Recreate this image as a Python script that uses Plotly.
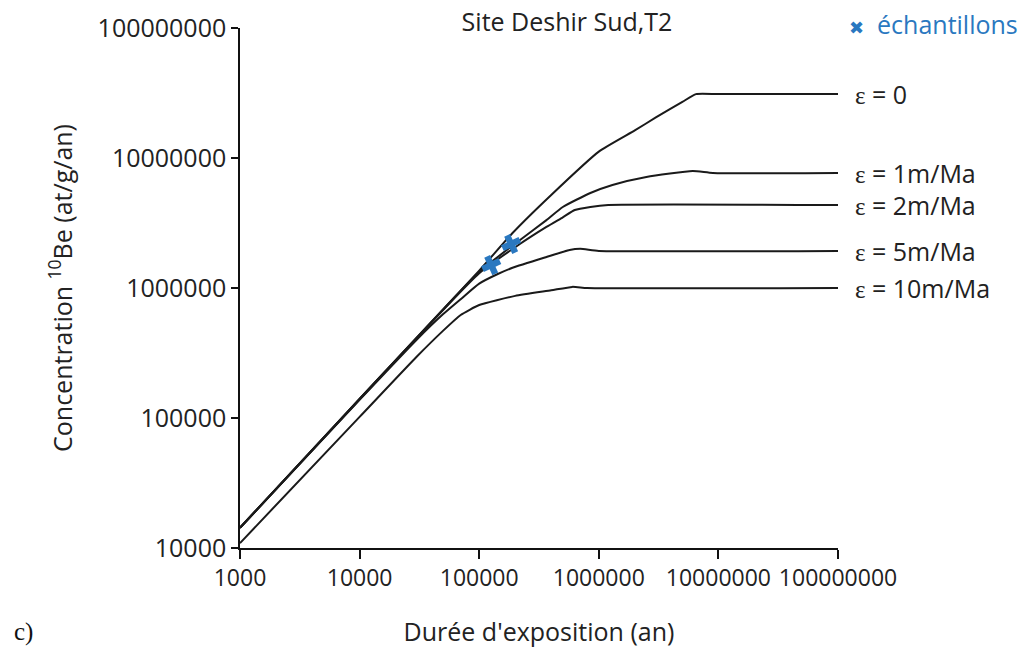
import math
import plotly.graph_objects as go

# ---- data ----
t_e0 = [1e3, 1e4, 1e5, 1.9e5, 4e5, 1e6, 2e6, 3e6, 5e6, 6.5e6, 1e7, 1e8]
n_e0 = [1.43e4, 1.40e5, 1.36e6, 2.65e6, 5.2e6, 1.12e7, 1.63e7, 2.05e7, 2.7e7, 3.1e7, 3.1e7, 3.1e7]

t_e1 = [1e3, 1e4, 1e5, 2.14e5, 3.65e5, 5e5, 8.5e5, 1.3e6, 2.5e6, 6.1e6, 9e6, 1e8]
n_e1 = [1.43e4, 1.40e5, 1.33e6, 2.3e6, 3.33e6, 4.2e6, 5.38e6, 6.2e6, 7.14e6, 7.94e6, 7.67e6, 7.67e6]

t_e2 = [1e3, 1e4, 1e5, 2.14e5, 3.65e5, 5e5, 6.3e5, 8.5e5, 1.2e6, 1e8]
n_e2 = [1.43e4, 1.40e5, 1.30e6, 2.15e6, 2.95e6, 3.5e6, 3.98e6, 4.2e6, 4.35e6, 4.35e6]

t_e5 = [1e3, 1e4, 3e4, 5e4, 7e4, 1e5, 1.4e5, 1.9e5, 3.65e5, 5.7e5, 7e5, 1e6, 1e8]
n_e5 = [1.43e4, 1.38e5, 4.0e5, 6.3e5, 8.2e5, 1.08e6, 1.27e6, 1.43e6, 1.73e6, 1.96e6, 2.0e6, 1.93e6, 1.93e6]

t_e10 = [1e3, 1e4, 3e4, 5e4, 7e4, 1e5, 2e5, 4e5, 6e5, 8e5, 1e8]
n_e10 = [1.09e4, 1.02e5, 2.96e5, 4.7e5, 6.2e5, 7.4e5, 8.7e5, 9.6e5, 1.02e6, 1.0e6, 1.0e6]

curve_labels = ["0", "1m/Ma", "2m/Ma", "5m/Ma", "10m/Ma"]

samples_t = [1.26e5, 1.85e5]
samples_n = [1.5e6, 2.18e6]

x_ticks = [1e3, 1e4, 1e5, 1e6, 1e7, 1e8]
x_ticktext = ["1000", "10000", "100000", "1000000", "10000000", "100000000"]
y_ticks = [1e4, 1e5, 1e6, 1e7, 1e8]
y_ticktext = ["10000", "100000", "1000000", "10000000", "100000000"]

title_text = "Site Deshir Sud,T2"
x_title = "Durée d'exposition (an)"
y_title = "Concentration <sup>10</sup>Be (at/g/an)"
legend_text = "échantillons"
panel_label = "c)"

# ---- styling ----
FONT = "Open Sans"
FS = 25
TXT = "#222222"
LINE = "#1a1a1a"
BLUE = "#2a78c0"

series = [(t_e0, n_e0), (t_e1, n_e1), (t_e2, n_e2), (t_e5, n_e5), (t_e10, n_e10)]

fig = go.Figure()
for t, n in series:
    fig.add_trace(go.Scatter(
        x=t, y=n, mode="lines",
        line=dict(color=LINE, width=2, shape="spline", smoothing=0.5),
        showlegend=False, hoverinfo="skip", cliponaxis=False,
    ))

fig.add_trace(go.Scatter(
    x=samples_t, y=samples_n, mode="markers",
    marker=dict(symbol="x", size=16, color=BLUE, angle=20, line=dict(width=0)),
    showlegend=False, hoverinfo="skip",
))

annotations = []
for (t, n), lab in zip(series, curve_labels):
    annotations.append(dict(
        xref="paper", x=(853 - 240) / 598, xanchor="left",
        yref="y", y=math.log10(n[-1]), yanchor="middle",
        text='<span style="font-family:Liberation Serif">ε</span> = ' + lab,
        showarrow=False, font=dict(family=FONT, size=FS, color=TXT),
    ))

annotations.append(dict(
    xref="paper", x=(1020 - 240) / 598, xanchor="right",
    yref="paper", y=(548 - 24) / 520, yanchor="middle",
    text='<span style="font-family:DejaVu Sans;font-size:18px">✖</span>  ' + legend_text,
    showarrow=False, font=dict(family=FONT, size=FS, color=BLUE),
))
annotations.append(dict(
    xref="paper", x=(12 - 240) / 598, xanchor="left",
    yref="paper", y=(548 - 632) / 520, yanchor="middle",
    text=panel_label, showarrow=False,
    font=dict(family="Liberation Serif", size=25, color="#111111"),
))

axis_common = dict(
    type="log", showgrid=False, zeroline=False, showline=True,
    linecolor="#111111", linewidth=1.5, ticks="outside",
    tickwidth=1.5, tickcolor="#111111", automargin=False,
)

fig.update_layout(
    width=1025, height=662,
    margin=dict(l=240, r=187, t=28, b=114),
    paper_bgcolor="white", plot_bgcolor="white",
    title=dict(text=title_text, xref="paper", x=(567 - 240) / 598, xanchor="center",
               yref="container", y=1 - 22 / 662, yanchor="middle",
               font=dict(family=FONT, size=FS, color=TXT)),
    xaxis=dict(range=[3, 8], tickvals=x_ticks, ticktext=x_ticktext, tickangle=0, ticklen=9,
               tickfont=dict(family=FONT, size=23, color=TXT),
               title=dict(text=x_title, standoff=31, font=dict(family=FONT, size=FS, color=TXT)),
               **axis_common),
    yaxis=dict(range=[4, 8], tickvals=y_ticks, ticktext=y_ticktext, ticklen=7,
               tickfont=dict(family=FONT, size=FS, color=TXT),
               title=dict(text=y_title, standoff=18, font=dict(family=FONT, size=FS, color=TXT)),
               **axis_common),
    annotations=annotations,
)

fig.write_html("out.html", config={"displayModeBar": False},
               post_script="document.body.style.margin='0px';")
